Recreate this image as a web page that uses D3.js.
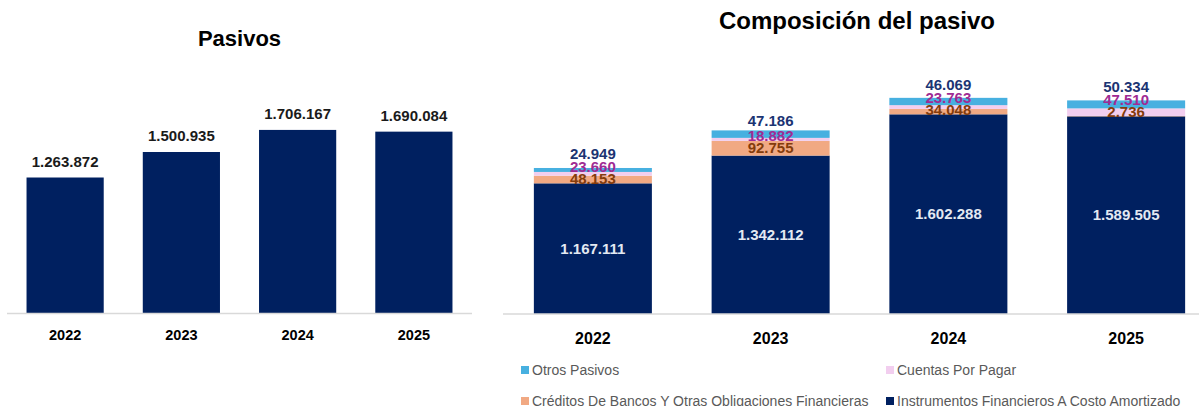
<!DOCTYPE html>
<html lang="es">
<head>
<meta charset="utf-8">
<script src="https://cdn.jsdelivr.net/npm/d3@7"></script>
<style>
  html, body { margin: 0; padding: 0; background: #ffffff; }
  svg { display: block; font-family: "Liberation Sans", Arial, sans-serif; }
</style>
</head>
<body>
<svg id="chart" width="1199" height="406"></svg>
<script>
// Años y valores (cifras en miles)
const years = ["2022", "2023", "2024", "2025"];
const totalPasivos = [1263872, 1500935, 1706167, 1690084];

// Composición del pasivo, de abajo hacia arriba en la pila
const instrumentos = [1167111, 1342112, 1602288, 1589505];
const creditos = [48153, 92755, 34048, 2736];
const cuentasPorPagar = [23660, 18882, 23763, 47510];
const otrosPasivos = [24949, 47186, 46069, 50334];

const seriesKeys = ["instrumentos", "creditos", "cuentas", "otros"];
const seriesNames = [
  "Instrumentos Financieros A Costo Amortizado",
  "Créditos De Bancos Y Otras Obligaciones Financieras",
  "Cuentas Por Pagar",
  "Otros Pasivos"
];
const legendOrder = ["otros", "cuentas", "creditos", "instrumentos"];

const fill = {
  instrumentos: "#002060",
  creditos: "#F1A983",
  cuentas: "#F2CEEF",
  otros: "#47B0E0"
};
const labelColor = {
  instrumentos: "#E3E9F2",
  creditos: "#843C0C",
  cuentas: "#A02B93",
  otros: "#1B3473"
};

const es = d3.formatLocale({ decimal: ",", thousands: ".", grouping: [3], currency: ["$", ""] });
const fmt = es.format(",d");

const svg = d3.select("#chart");

// ---------- Pasivos (total) ----------
const left = svg.append("g");
const xL = d3.scaleBand().domain(years).range([7, 472]).paddingInner(0.336).paddingOuter(0.168);
const yL = d3.scaleLinear().domain([0, 2000000]).range([313.5, 98.3]);

left.append("text")
  .attr("x", 239.5).attr("y", 38).attr("dy", "0.35em")
  .attr("text-anchor", "middle")
  .style("font-size", "22px").style("font-weight", "bold").attr("fill", "#000")
  .text("Pasivos");

left.selectAll("rect.bar")
  .data(years.map((y, i) => ({ year: y, value: totalPasivos[i] })))
  .join("rect")
  .attr("class", "bar")
  .attr("x", d => xL(d.year))
  .attr("width", xL.bandwidth())
  .attr("y", d => yL(d.value))
  .attr("height", d => yL(0) - yL(d.value))
  .attr("fill", fill.instrumentos);

left.selectAll("text.val")
  .data(years.map((y, i) => ({ year: y, value: totalPasivos[i] })))
  .join("text")
  .attr("class", "val")
  .attr("x", d => xL(d.year) + xL.bandwidth() / 2)
  .attr("y", d => yL(d.value) - 16)
  .attr("dy", "0.35em")
  .attr("text-anchor", "middle")
  .style("font-size", "15px").style("font-weight", "bold").attr("fill", "#1a1a1a")
  .text(d => fmt(d.value));

const axL = left.append("g").attr("transform", `translate(0,${yL(0)})`)
  .call(d3.axisBottom(xL).tickSize(0).tickPadding(0));
axL.select(".domain").attr("d", "M7,0H472").attr("stroke", "#d9d9d9").attr("stroke-width", 1.6);
axL.selectAll(".tick text")
  .attr("y", 21.5).attr("dy", "0.35em")
  .style("font-size", "14.5px").style("font-weight", "bold")
  .style("font-family", "'Liberation Sans', Arial, sans-serif")
  .attr("fill", "#000");

// ---------- Composición del pasivo (apilado) ----------
const right = svg.append("g");
const xR = d3.scaleBand().domain(years).range([504, 1215]).paddingInner(0.336).paddingOuter(0.168);
const yR = d3.scaleLinear().domain([343000, 1943000]).range([314, 60.3]).clamp(true);

right.append("text")
  .attr("x", 857).attr("y", 21).attr("dy", "0.35em")
  .attr("text-anchor", "middle")
  .style("font-size", "24px").style("font-weight", "bold").attr("fill", "#000")
  .text("Composición del pasivo");

const rows = years.map((y, i) => ({
  year: y,
  instrumentos: instrumentos[i],
  creditos: creditos[i],
  cuentas: cuentasPorPagar[i],
  otros: otrosPasivos[i]
}));
const stacked = d3.stack().keys(seriesKeys)(rows);

right.selectAll("g.layer")
  .data(stacked)
  .join("g")
  .attr("class", "layer")
  .attr("fill", d => fill[d.key])
  .selectAll("rect")
  .data(d => d)
  .join("rect")
  .attr("x", d => xR(d.data.year))
  .attr("width", xR.bandwidth())
  .attr("y", d => yR(d[1]))
  .attr("height", d => yR(d[0]) - yR(d[1]));

// Etiquetas: la base va centrada en su tramo; las pequeñas se escalonan sobre la pila
const byKey = Object.fromEntries(stacked.map(s => [s.key, s]));
rows.forEach((r, i) => {
  const cx = xR(r.year) + xR.bandwidth() / 2;
  const seg = k => byKey[k][i];
  const mid = k => (yR(seg(k)[0]) + yR(seg(k)[1])) / 2;
  const baseTop = yR(seg("instrumentos")[1]);
  const stackTop = yR(seg("otros")[1]);

  const pos = {};
  pos.instrumentos = mid("instrumentos");
  pos.creditos = Math.min(mid("creditos"), baseTop - 5);
  pos.cuentas = Math.min(mid("cuentas"), pos.creditos - 12);
  pos.otros = Math.min(mid("otros"), pos.cuentas - 13, stackTop - 10);

  seriesKeys.forEach(k => {
    right.append("text")
      .attr("x", cx).attr("y", pos[k]).attr("dy", "0.35em")
      .attr("text-anchor", "middle")
      .style("font-size", "15px").style("font-weight", "bold")
      .attr("fill", labelColor[k])
      .text(fmt(r[k]));
  });
});

const axR = right.append("g").attr("transform", `translate(0,${yR.range()[0]})`)
  .call(d3.axisBottom(xR).tickSize(0).tickPadding(0));
axR.select(".domain").attr("d", "M503,0H1199").attr("stroke", "#d9d9d9").attr("stroke-width", 1.6);
axR.selectAll(".tick text")
  .attr("y", 24).attr("dy", "0.35em")
  .style("font-size", "16px").style("font-weight", "bold")
  .style("font-family", "'Liberation Sans', Arial, sans-serif")
  .attr("fill", "#000");

// Leyenda en dos columnas
const legCols = [521, 886];
const legRows = [370, 401];
const legend = right.selectAll("g.leg")
  .data(legendOrder)
  .join("g")
  .attr("class", "leg")
  .attr("transform", (d, i) => `translate(${legCols[i % 2]},${legRows[Math.floor(i / 2)]})`);
legend.append("rect")
  .attr("x", 0).attr("y", -4).attr("width", 8).attr("height", 8)
  .attr("fill", d => fill[d]);
legend.append("text")
  .attr("x", 11).attr("y", 0).attr("dy", "0.35em")
  .style("font-size", "14px").attr("fill", "#595959")
  .text(d => seriesNames[seriesKeys.indexOf(d)]);
</script>
</body>
</html>
